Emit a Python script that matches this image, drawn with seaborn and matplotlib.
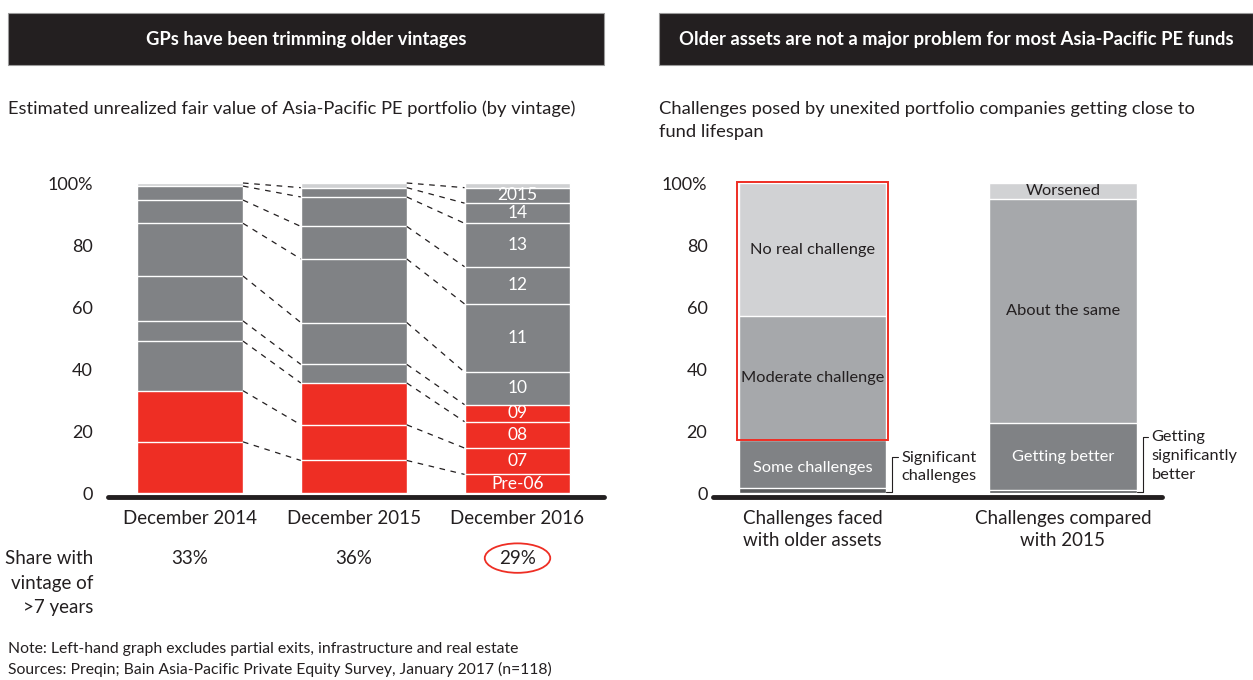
import matplotlib
matplotlib.use("Agg")
import matplotlib.pyplot as plt
from matplotlib.patches import Rectangle, Ellipse
import numpy as np
import pandas as pd
import seaborn as sns

# ── Data ──────────────────────────────────────────────────────────────────────
periods = ["December 2014", "December 2015", "December 2016"]
vintages = ["Pre-06", "07", "08", "09", "10", "11", "12", "13", "14", "2015", "2016"]
dec_2014 = [16.5, 16.5, 16.0, 6.5, 14.5, 17.0, 7.5, 4.5, 1.0, 0.0, 0.0]
dec_2015 = [10.5, 11.5, 13.5, 6.0, 13.5, 20.5, 10.5, 9.5, 3.0, 1.5, 0.0]
dec_2016 = [6.0, 8.5, 8.5, 5.5, 10.5, 22.0, 12.0, 14.0, 6.5, 5.0, 1.5]
n_old_vintages = [2, 3, 4]          # vintages older than 7 years in each period
share_old = ["33%", "36%", "29%"]

groups_right = ["Challenges faced\nwith older assets", "Challenges compared\nwith 2015"]
older_cats = ["Significant challenges", "Some challenges", "Moderate challenge", "No real challenge"]
older_vals = [1.5, 15.5, 40.0, 43.0]
vs2015_cats = ["Getting significantly better", "Getting better", "About the same", "Worsened"]
vs2015_vals = [1.0, 21.5, 72.5, 5.0]

# ── Style ─────────────────────────────────────────────────────────────────────
RED = "#ee2e24"
GREY = "#808285"
LIGHT = "#cfd0d2"
DARK = "#231f20"
right_shades = ["#58595b", "#808285", "#a6a8ab", "#d1d2d4"]
right_text = ["white", "white", DARK, DARK]

sns.set_theme(style="white")
plt.rcParams["font.family"] = ["Lato", "DejaVu Sans"]
plt.rcParams["text.color"] = DARK

W, H = 1253, 680
fig = plt.figure(figsize=(W / 100, H / 100), dpi=100)


def px(x0, y0, x1, y1):
    """pixel box -> figure-fraction rect"""
    return [x0 / W, 1 - y1 / H, (x1 - x0) / W, (y1 - y0) / H]


# ── Headers and subtitles ─────────────────────────────────────────────────────
for (x0, x1, title) in [(8, 604, "GPs have been trimming older vintages"),
                        (659, 1253, "Older assets are not a major problem for most Asia-Pacific PE funds")]:
    fig.add_artist(Rectangle((x0 / W, 1 - 65 / H), (x1 - x0) / W, 52 / H,
                             transform=fig.transFigure, facecolor=DARK,
                             edgecolor="#9a9a9a", lw=0.8))
    fig.text((x0 + x1) / 2 / W, 1 - 39 / H, title, color="white", fontsize=13.2,
             fontweight="bold", ha="center", va="center")

fig.text(8 / W, 1 - 109 / H,
         "Estimated unrealized fair value of Asia-Pacific PE portfolio (by vintage)",
         fontsize=13.2, ha="left", va="center")
fig.text(659 / W, 1 - 109 / H, "Challenges posed by unexited portfolio companies getting close to",
         fontsize=13.2, ha="left", va="center")
fig.text(659 / W, 1 - 132 / H, "fund lifespan", fontsize=13.2, ha="left", va="center")

# ── Left chart: stacked vintages ──────────────────────────────────────────────
ax = fig.add_axes(px(108, 183, 604, 493))
bw = 0.647

values = np.array([dec_2014, dec_2015, dec_2016])
cum = values.cumsum(axis=1)

# draw from the top vintage down so each bar covers the one drawn before
for i in range(len(vintages) - 1, -1, -1):
    pal = {}
    for j, p in enumerate(periods):
        last = max(k for k in range(len(vintages)) if values[j, k] > 0)
        if i < n_old_vintages[j]:
            pal[p] = RED
        elif i >= last:
            pal[p] = LIGHT
        else:
            pal[p] = GREY
    sub = pd.DataFrame({"period": periods, "cum": cum[:, i] * (values[:, i] > 0)})
    sns.barplot(data=sub, x="period", y="cum", hue="period", palette=pal,
                order=periods, hue_order=periods, dodge=False, legend=False,
                width=bw, saturation=1, errorbar=None, edgecolor="white",
                linewidth=1.0, ax=ax)

# dashed connectors between matching vintage tops
for j in range(len(periods) - 1):
    for i in range(len(vintages)):
        if values[j, i] > 0 and values[j + 1, i] > 0:
            ax.plot([j + bw / 2, j + 1 - bw / 2], [cum[j, i], cum[j + 1, i]],
                    color=DARK, lw=0.9, ls=(0, (4.5, 4.5)), clip_on=False)

# vintage labels inside the last bar
j = len(periods) - 1
for i, v in enumerate(vintages):
    if values[j, i] >= 3:
        ax.text(j, cum[j, i] - values[j, i] / 2, v, color="white", fontsize=12.5,
                ha="center", va="center")

# share row
for j, s in enumerate(share_old):
    ax.text(j, -21, s, fontsize=13.5, ha="center", va="center", clip_on=False)
ax.add_patch(Ellipse((2, -21), 0.40, 9.5, fill=False, edgecolor=RED, lw=1.3,
                     clip_on=False))
for k, line in enumerate(["Share with", "vintage of", ">7 years"]):
    fig.text(93 / W, 1 - (558 + 25 * k) / H, line, fontsize=13.5,
             ha="right", va="center")

ax.set_xlim((108 - 190) / 163.75, (604 - 190) / 163.75)
ax.set_ylim(0, 100)
ax.set_yticks([0, 20, 40, 60, 80, 100], ["0", "20", "40", "60", "80", "100%"])
ax.tick_params(axis="y", length=0, pad=11, labelsize=13, labelcolor=DARK)
ax.tick_params(axis="x", length=0, pad=12, labelsize=13.5, labelcolor=DARK)
ax.set_xlabel("")
ax.set_ylabel("")
sns.despine(ax=ax, left=True, bottom=True)
ax.axhline(-1.2, color=DARK, lw=3.5, clip_on=False)

# ── Right chart: survey responses ─────────────────────────────────────────────
ax2 = fig.add_axes(px(713, 183, 1162, 493))
bw2 = 0.587
right_vals = np.array([older_vals, vs2015_vals])
right_cum = right_vals.cumsum(axis=1)
for k in range(3, -1, -1):
    sub = pd.DataFrame({"group": groups_right, "cum": right_cum[:, k]})
    sns.barplot(data=sub, x="group", y="cum", order=groups_right, color=right_shades[k],
                width=bw2, saturation=1, errorbar=None, edgecolor="white",
                linewidth=1.0, ax=ax2)

for g, cats in enumerate([older_cats, vs2015_cats]):
    for k in (1, 2, 3):
        mid = right_cum[g, k] - right_vals[g, k] / 2
        if g == 0 and k == 1:
            mid -= 1.3
        ax2.text(g, mid, cats[k], color=right_text[k], fontsize=11.8,
                 ha="center", va="center")

# red outline around moderate + no real challenge
ax2.add_patch(Rectangle((-bw2 / 2 - 0.008, right_cum[0, 1]), bw2 + 0.016,
                        100.4 - right_cum[0, 1], fill=False, edgecolor=RED,
                        lw=1.4, clip_on=False, zorder=5))

# brackets for the thin bottom segments
for g, cats, top in [(0, older_cats, 11.5), (1, vs2015_cats, 18.0)]:
    xb = g + bw2 / 2 + 0.025
    ax2.plot([g + bw2 / 2, xb, xb, xb + 0.022], [0.3, 0.3, top, top],
             color=DARK, lw=0.8, clip_on=False)
    words = cats[0].split(" ")
    label = "\n".join(words) if g == 1 else words[0] + "\n" + " ".join(words[1:])
    ax2.text(xb + 0.035, top + 2.2, label, fontsize=11.8, ha="left", va="top",
             linespacing=1.45, clip_on=False)

ax2.set_xlim((713 - 812.5) / 250.5, (1162 - 812.5) / 250.5)
ax2.set_ylim(0, 100)
ax2.set_yticks([0, 20, 40, 60, 80, 100], ["0", "20", "40", "60", "80", "100%"])
ax2.tick_params(axis="y", length=0, pad=4, labelsize=13, labelcolor=DARK)
ax2.tick_params(axis="x", length=0, pad=12, labelsize=13.5, labelcolor=DARK)
for t in ax2.get_xticklabels():
    t.set_linespacing(1.35)
ax2.set_xlabel("")
ax2.set_ylabel("")
sns.despine(ax=ax2, left=True, bottom=True)
ax2.axhline(-1.2, color=DARK, lw=3.5, clip_on=False)

# ── Notes ─────────────────────────────────────────────────────────────────────
fig.text(8 / W, 1 - 649 / H,
         "Note: Left-hand graph excludes partial exits, infrastructure and real estate",
         fontsize=11.3, ha="left", va="center")
fig.text(8 / W, 1 - 669 / H,
         "Sources: Preqin; Bain Asia-Pacific Private Equity Survey, January 2017 (n=118)",
         fontsize=11.3, ha="left", va="center")

fig.savefig("out.png", dpi=100)
